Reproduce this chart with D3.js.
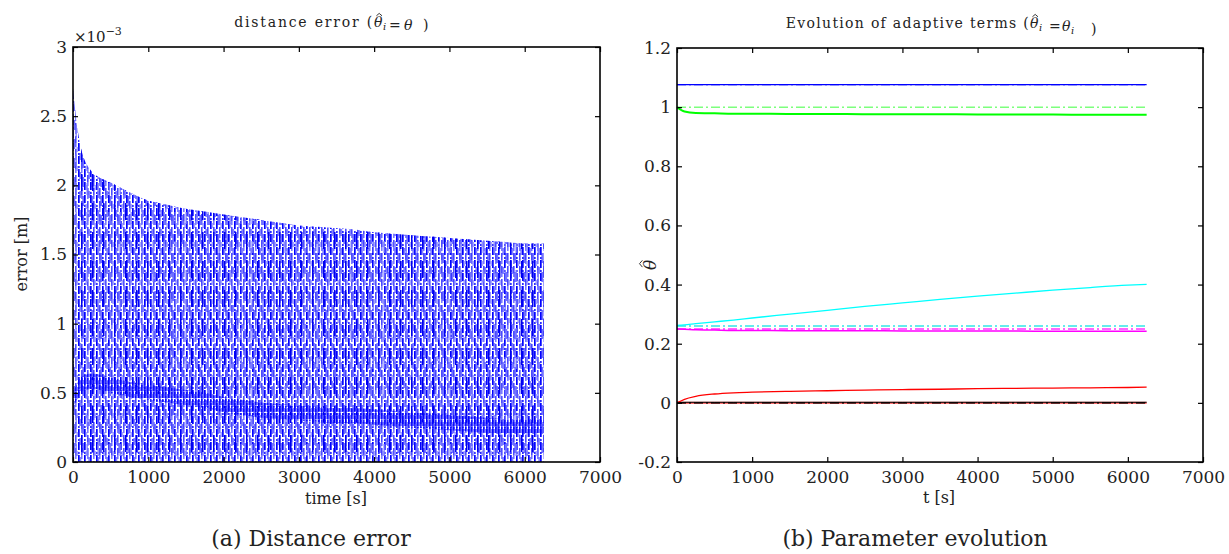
<!DOCTYPE html>
<html>
<head>
<meta charset="utf-8">
<script src="https://cdn.jsdelivr.net/npm/d3@7"></script>
<style>
    body { margin: 0; background: #fff; }
    svg text { font-family: "DejaVu Serif"; fill: #222; }
</style>
</head>
<body>
<script>
// ---- data: (a) distance error, values in units of 1e-3 m ----
const errTimes = [0, 50, 100, 250, 500, 750, 1000, 1250, 1500, 1750, 2000, 2250, 2500, 2750, 3000,
    3250, 3500, 3750, 4000, 4250, 4500, 4750, 5000, 5250, 5500, 5750, 6000, 6250];
const errUpper = [2.70, 2.45, 2.28, 2.10, 2.02, 1.95, 1.89, 1.86, 1.83, 1.81, 1.79, 1.77, 1.75, 1.73, 1.71,
    1.70, 1.69, 1.68, 1.66, 1.65, 1.64, 1.63, 1.62, 1.61, 1.60, 1.59, 1.58, 1.58];
const errBand = [0.45, 0.50, 0.55, 0.58, 0.55, 0.52, 0.50, 0.48, 0.46, 0.44, 0.41, 0.39, 0.37, 0.36, 0.35,
    0.34, 0.33, 0.33, 0.32, 0.31, 0.30, 0.29, 0.28, 0.27, 0.26, 0.25, 0.25, 0.25];
const errTicksY = [0, 0.5, 1, 1.5, 2, 2.5, 3];

// ---- data: (b) parameter evolution ----
const paramTimes = [0, 100, 250, 500, 750, 1000, 1500, 2000, 2500, 3000, 3500, 4000, 4500, 5000, 5500, 6000, 6250];
const thetaBlue = [1.076, 1.076, 1.076, 1.076, 1.076, 1.076, 1.076, 1.076, 1.076, 1.076, 1.076, 1.076, 1.076, 1.076, 1.076, 1.076, 1.076];
const thetaGreen = [1.0, 0.985, 0.980, 0.979, 0.978, 0.978, 0.977, 0.977, 0.976, 0.976, 0.976, 0.975, 0.975, 0.975, 0.974, 0.974, 0.974];
const thetaCyan = [0.262, 0.264, 0.268, 0.274, 0.280, 0.287, 0.300, 0.313, 0.326, 0.338, 0.350, 0.361, 0.371, 0.381, 0.390, 0.398, 0.401];
const thetaMagenta = [0.25, 0.249, 0.247, 0.246, 0.245, 0.245, 0.244, 0.244, 0.244, 0.243, 0.243, 0.243, 0.243, 0.242, 0.242, 0.242, 0.242];
const thetaRed = [0, 0.012, 0.022, 0.030, 0.034, 0.036, 0.039, 0.041, 0.043, 0.045, 0.046, 0.048, 0.049, 0.050, 0.051, 0.052, 0.053];
const thetaBlack = [0.002, 0.002, 0.002, 0.002, 0.002, 0.002, 0.002, 0.002, 0.002, 0.002, 0.002, 0.002, 0.002, 0.002, 0.002, 0.002, 0.002];
const thetaRedLow = [0, 0, 0, 0, 0, 0, 0, 0, 0, 0, 0, 0, 0, 0, 0, 0, 0];
// true values (dash-dot references)
const trueNames = ["blue", "green", "cyan", "magenta", "black"];
const trueValues = [1.076, 1.0, 0.26, 0.25, 0];
const paramTicksY = [-0.2, 0, 0.2, 0.4, 0.6, 0.8, 1, 1.2];
const timeTicks = [0, 1000, 2000, 3000, 4000, 5000, 6000, 7000];

const W = 1229, H = 554;
const svg = d3.select("body").append("svg").attr("width", W).attr("height", H);

// stripe textures for the dense oscillation
const defs = svg.append("defs");
function makePattern(id, w, h, offset, rects) {
    const p = defs.append("pattern").attr("id", id)
        .attr("patternUnits", "userSpaceOnUse").attr("width", w).attr("height", h).attr("x", offset);
    rects.forEach(function (r) {
        p.append("rect").attr("x", r[0]).attr("y", r[1]).attr("width", r[2]).attr("height", r[3]).attr("fill", r[4]);
    });
}
makePattern("stripes", 6, 13, 0, [
    [0, 0, 1.7, 8, "#0000ff"], [0, 10, 1.7, 2, "#2a2aff"],
    [3, 6, 1.6, 7, "#4a4aff"], [3, 0, 1.6, 4, "#7a7aff"]
]);
makePattern("stripes2", 9, 19, 1.5, [
    [0, 6, 1.4, 10, "#1414ff"], [3, 14, 1.4, 5, "#6a6aff"], [6, 1, 1.4, 7, "#3030ff"]
]);
makePattern("stripes3", 11, 29, 4, [
    [0, 0, 1.5, 17, "#0000ee"], [5.5, 9, 1.3, 12, "#7878ff"]
]);
makePattern("dense", 3, 7, 0, [
    [0, 0, 1.6, 6, "#0000ff"], [1.8, 2, 1, 4, "#5050ff"]
]);

function fmt(v) {
    return String(Math.round(v * 10) / 10);
}

// little circumflex drawn as a path over a glyph
function hatPath(parent, cx, baseline, size) {
    const w = size * 0.2;
    parent.append("path")
        .attr("d", `M${cx - w},${baseline - size * 0.8} L${cx},${baseline - size * 0.97} L${cx + w},${baseline - size * 0.8}`)
        .attr("fill", "none").attr("stroke", "#222").attr("stroke-width", 0.9);
}

function subI(text) {
    text.append("tspan").attr("dy", 3).attr("dx", 0.5).style("font-size", "10px").style("font-style", "italic").text("i");
    text.append("tspan").attr("dy", -3).text("");
}

// title built around the hatted theta at x = px; eqX, thX, closeX place "=", theta and ")"
function hatTitle(prefix, px, baseline, spacing, eqX, thX, closeX, subOnSecond) {
    const size = 14;
    svg.append("text").attr("x", px).attr("y", baseline).attr("text-anchor", "end")
        .style("font-size", size + "px").style("letter-spacing", spacing + "px").text(prefix);
    svg.append("text").attr("x", px).attr("y", baseline)
        .style("font-size", size + "px").style("font-style", "italic").text("θ");
    hatPath(svg, px + 5.2, baseline, size);
    const t = svg.append("text").attr("x", px + 8.6).attr("y", baseline).style("font-size", size + "px");
    subI(t);
    t.append("tspan").attr("x", eqX).text("=");
    t.append("tspan").attr("x", thX).style("font-style", "italic").text("θ");
    if (subOnSecond) subI(t);
    t.append("tspan").attr("x", closeX).text(")");
}

// draws the box, inward ticks on four sides and tick labels
function drawFrame(x, y, ticksY) {
    const g = svg.append("g");
    const [x0, x1] = x.range();
    const [y0, y1] = y.range();

    g.append("g").attr("transform", `translate(0,${y0})`)
        .call(d3.axisBottom(x).tickValues(timeTicks).tickSize(-5).tickPadding(9).tickFormat(d3.format("d")))
        .call(a => a.select(".domain").remove())
        .call(a => a.selectAll("text").style("font-size", "17px").attr("fill", "#222"));
    g.append("g").attr("transform", `translate(0,${y1})`)
        .call(d3.axisTop(x).tickValues(timeTicks).tickSize(-5).tickFormat(""))
        .call(a => a.select(".domain").remove());
    g.append("g").attr("transform", `translate(${x0},0)`)
        .call(d3.axisLeft(y).tickValues(ticksY).tickSize(-5).tickPadding(6).tickFormat(fmt))
        .call(a => a.select(".domain").remove())
        .call(a => a.selectAll("text").style("font-size", "17px").attr("fill", "#222"));
    g.append("g").attr("transform", `translate(${x1},0)`)
        .call(d3.axisRight(y).tickValues(ticksY).tickSize(-5).tickFormat(""))
        .call(a => a.select(".domain").remove());
    g.selectAll(".tick line").attr("stroke", "#000").attr("stroke-width", 1.2);
    g.append("rect")
        .attr("x", x0).attr("y", y1).attr("width", x1 - x0).attr("height", y0 - y1)
        .attr("fill", "none").attr("stroke", "#000").attr("stroke-width", 1.6);
    return g;
}

// ---------------- (a) distance error ----------------
const xa = d3.scaleLinear().domain([0, 7000]).range([73, 600]);
const ya = d3.scaleLinear().domain([0, 3]).range([462, 47]);

const errPts = errTimes.map((t, i) => ({t: t, up: errUpper[i], band: errBand[i]}));
const envelope = d3.area().x(d => xa(d.t)).y0(ya(0)).y1(d => ya(d.up)).curve(d3.curveMonotoneX);
const plotA = svg.append("g");
plotA.append("path").datum(errPts).attr("fill", "url(#stripes)").attr("d", envelope);
plotA.append("path").datum(errPts).attr("fill", "url(#stripes2)").attr("opacity", 0.85).attr("d", envelope);
plotA.append("path").datum(errPts).attr("fill", "url(#stripes3)").attr("d", envelope);
plotA.append("path").datum(errPts)
    .attr("fill", "url(#dense)").attr("opacity", 0.85)
    .attr("d", d3.area().x(d => xa(d.t)).y0(d => ya(d.band - 0.05)).y1(d => ya(d.band + 0.06)).curve(d3.curveMonotoneX));

drawFrame(xa, ya, errTicksY);

const expo = svg.append("text").attr("x", 74).attr("y", 42).style("font-size", "15px");
expo.append("tspan").text("×10");
expo.append("tspan").attr("dy", -7).style("font-size", "11px").text("−3");

hatTitle("distance error (", 374, 27, 1.8, 389, 404, 423, false);

svg.append("text").attr("x", 336).attr("y", 504).attr("text-anchor", "middle")
    .style("font-size", "16px").text("time [s]");
svg.append("text").attr("transform", "translate(27,254) rotate(-90)").attr("text-anchor", "middle")
    .style("font-size", "16px").text("error [m]");
svg.append("text").attr("x", 311).attr("y", 546).attr("text-anchor", "middle")
    .style("font-size", "22px").text("(a)  Distance error");

// ---------------- (b) parameter evolution ----------------
const xb = d3.scaleLinear().domain([0, 7000]).range([677, 1203]);
const yb = d3.scaleLinear().domain([-0.2, 1.2]).range([462, 48]);
const lightColors = {blue: "#8080ff", green: "#7dff7d", cyan: "#33e6e6", magenta: "#ff33ff", black: "#000000"};

const line = d3.line().x(d => xb(d[0])).y(d => yb(d[1]));
const plotB = svg.append("g");

// reference values, dash-dot
trueNames.forEach(function (name, i) {
    plotB.append("path")
        .datum([[0, trueValues[i]], [6250, trueValues[i]]])
        .attr("d", line)
        .attr("fill", "none")
        .attr("stroke", lightColors[name])
        .attr("stroke-width", 1.5)
        .attr("stroke-dasharray", "9,3,2,3");
});

const estimates = [
    [thetaRedLow, "#ff7070", 2.2],
    [thetaBlack, "#000000", 1],
    [thetaBlue, "#0000ff", 1.2],
    [thetaGreen, "#00ff00", 2],
    [thetaCyan, "#00ffff", 1.3],
    [thetaMagenta, "#ff00ff", 1.5],
    [thetaRed, "#ff0000", 1.3]
];
const curveLine = d3.line().x(d => xb(d[0])).y(d => yb(d[1])).curve(d3.curveMonotoneX);
estimates.forEach(function (e) {
    plotB.append("path")
        .datum(paramTimes.map((t, i) => [t, e[0][i]]))
        .attr("d", curveLine)
        .attr("fill", "none")
        .attr("stroke", e[1])
        .attr("stroke-width", e[2]);
});
// black dashes sit on top of the zero lines
plotB.append("path")
    .datum([[0, 0], [6250, 0]])
    .attr("d", line)
    .attr("fill", "none").attr("stroke", "#000").attr("stroke-width", 1.6)
    .attr("stroke-dasharray", "9,3,2,3").attr("opacity", 0.8);

drawFrame(xb, yb, paramTicksY);

hatTitle("Evolution of adaptive terms ( ", 1030, 28, 1.3, 1049, 1062, 1091, true);

svg.append("text").attr("x", 939).attr("y", 503).attr("text-anchor", "middle")
    .style("font-size", "16px").text("t [s]");
const yLab = svg.append("g").attr("transform", "translate(656,265) rotate(-90)");
yLab.append("text").attr("x", -5).attr("y", 0)
    .style("font-size", "17px").style("font-style", "italic").text("θ");
hatPath(yLab, 1.3, 0, 17);
svg.append("text").attr("x", 915).attr("y", 546).attr("text-anchor", "middle")
    .style("font-size", "22px").text("(b)  Parameter evolution");
</script>
</body>
</html>
